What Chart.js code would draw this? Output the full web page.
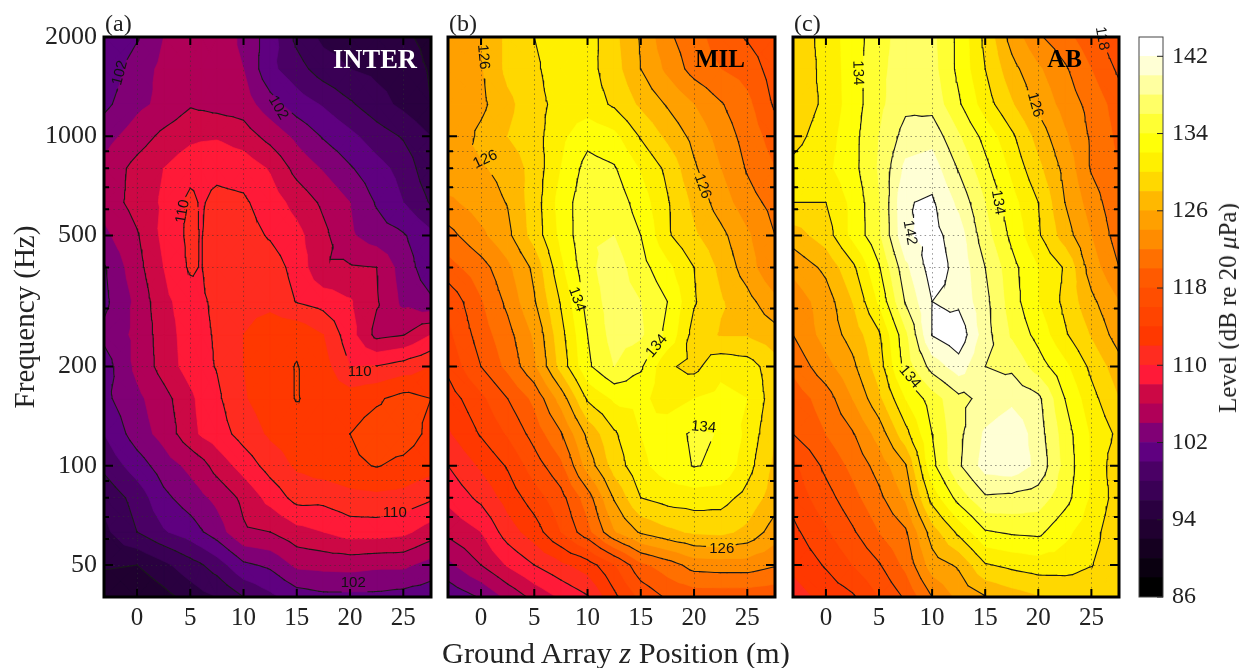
<!DOCTYPE html>
<html>
<head>
<meta charset="utf-8">
<title>Ground array levels</title>
<script src="https://cdn.jsdelivr.net/npm/chart.js@4"></script>
<style>
  html, body { margin: 0; padding: 0; background: #fff; }
  #page { position: relative; width: 1239px; height: 668px; overflow: hidden; font-family: "Liberation Serif", serif; color: #222; }
  canvas { position: absolute; top: 0; }
  .label { position: absolute; white-space: nowrap; }
</style>
</head>
<body>
<div id="page">
  <canvas id="canvasA" style="left:0" width="438" height="668"></canvas>
  <canvas id="canvasB" style="left:438px" width="345" height="668"></canvas>
  <canvas id="canvasC" style="left:783px" width="345" height="668"></canvas>
  <canvas id="canvasBar" style="left:1128px" width="90" height="668"></canvas>
  <div class="label" style="left:442px; top:636px; font-size:30.4px">Ground Array <i>z</i> Position (m)</div>
  <div class="label" style="left:1228px; top:308px; font-size:25px; transform:translate(-50%,-50%) rotate(-90deg)">Level (dB re 20 <i>μ</i>Pa)</div>
</div>
<script>
const freqs = [2000, 1600, 1250, 1000, 800, 630, 500, 400, 315, 250, 200, 160, 125, 100, 80, 63, 50, 40];
const zInter = [-3.1, 0, 2.5, 5, 6, 7.5, 10, 12.5, 15, 17.5, 20, 22.5, 25, 27.6];
const zOther = [-3.1, 0, 2.5, 5, 7.5, 10, 12.5, 15, 17.5, 20, 22.5, 25, 27.6];

const levelsInter = [
  [100, 101.8, 104, 105.5, 105.6, 105.5, 103.5, 101, 97.5, 95.5, 95, 94.5, 94.3, 93.5],
  [100.5, 103, 104.5, 105, 105.2, 105, 104, 100.5, 98.8, 97, 96, 95.5, 95, 93.8],
  [101.5, 103.5, 104.5, 105.8, 105.6, 105.3, 105, 102.8, 101, 99.8, 98.3, 96.8, 95.5, 94],
  [103.2, 105, 106.5, 107.5, 107.7, 107.8, 107, 105.3, 103.5, 101.8, 100.5, 99, 97.8, 96],
  [104.5, 106.7, 108, 109.3, 109.4, 109.5, 109.2, 107.8, 105.3, 103.8, 102.2, 100.7, 99.3, 96.5],
  [104.8, 106.8, 108.3, 110.5, 109.8, 110.5, 110.3, 109, 107.3, 105.6, 104, 101.8, 100, 97.8],
  [103.5, 105.8, 108.5, 110.5, 109.9, 111, 110.8, 109.8, 108.6, 106.5, 104.3, 102.9, 102.2, 100.5],
  [101.8, 105.3, 108, 110.3, 109.9, 111.2, 111.5, 111, 109.3, 106.2, 106.2, 106, 103, 100.8],
  [101.5, 104.5, 107.5, 109, 109.7, 110.4, 111.5, 111.5, 109.9, 109.2, 108.2, 106.2, 103.5, 102.3],
  [102.5, 104.5, 107, 109, 109.6, 110.2, 112, 113, 113.5, 112, 108.8, 105.4, 105.9, 108],
  [101, 104.5, 106.8, 108.9, 109.5, 110.1, 112, 113.2, 114.1, 112.8, 110, 110.1, 110.9, 112],
  [101.5, 103.5, 105.3, 107.5, 108.6, 109.6, 111.8, 113, 114.1, 113.3, 113, 113.7, 114.7, 114],
  [100, 103, 104.7, 107.3, 108.2, 109, 110.8, 112.3, 113, 113.5, 114, 115, 115, 113.5],
  [98.5, 101, 103, 104.5, 105.2, 106.8, 108.8, 110.8, 112.3, 113, 113.6, 114.1, 113.5, 112.7],
  [96.5, 98.8, 101.5, 103, 103.6, 104.5, 106.5, 108.7, 110.7, 110.6, 111.3, 111.5, 111.3, 110.3],
  [95.5, 98, 99.8, 101, 101.8, 103, 105.7, 106, 107.3, 108, 108.9, 108.9, 108.5, 107],
  [94.3, 94, 95.5, 97.2, 97.8, 99, 101.6, 102.4, 104.4, 104.6, 104.7, 104.4, 104.4, 103.2],
  [92.3, 92, 93.3, 94.8, 95.4, 96, 98, 99.5, 101, 101.5, 101.5, 101.5, 101.2, 100.8],
];

const levelsMil = [
  [125, 126, 128.5, 130, 131.5, 131, 128.5, 125.8, 122.4, 120.8, 119, 117.8, 116.5],
  [125, 125.8, 128.5, 129.5, 131.5, 130.8, 128.8, 126, 123.5, 121.2, 120, 119.2, 117],
  [124.5, 125.5, 127.5, 129.2, 130.8, 131, 129.7, 127.6, 125.8, 124, 122.2, 120.5, 117.7],
  [124, 126.5, 128, 129.2, 131.5, 133.3, 132.5, 129.8, 127.5, 125.4, 123.2, 121.2, 119],
  [125.8, 125.8, 126.6, 128.8, 132, 134.8, 134.2, 131.8, 129.5, 126.3, 124, 121.8, 120],
  [123.5, 125, 126.1, 129, 132.8, 135.5, 135.3, 133, 130.2, 127.5, 125, 122.8, 121.3],
  [121.3, 123.5, 125.5, 128.8, 132.5, 135.8, 136, 134, 130.3, 128.3, 126.6, 124.3, 122],
  [119.2, 121.2, 123.5, 126.5, 131.5, 135.5, 137, 134.8, 132.5, 130, 127.5, 125, 122],
  [116.5, 119.8, 122.5, 125.8, 130.2, 134.8, 137, 136, 134, 130.2, 128.2, 126.7, 124.5],
  [115.5, 119, 121.3, 124.3, 129.3, 134, 136.8, 136.3, 133.5, 129.2, 127.8, 127.8, 126.8],
  [114.5, 118, 120.5, 123.6, 128.7, 133.6, 136, 134.3, 130.3, 129.4, 131.5, 131, 128.8],
  [113, 115.5, 118, 120.5, 124.8, 130.3, 132.3, 132.5, 131, 132, 132.5, 132, 128.8],
  [111.7, 114.2, 116.2, 118.8, 121.8, 126.5, 129.7, 132, 133.2, 134.3, 133.9, 131.5, 128],
  [110, 112.3, 114.2, 117, 119.5, 124.8, 128.8, 131.5, 133, 134.1, 133.7, 130.8, 127.5],
  [108.5, 110.5, 112.8, 115, 117.3, 121, 126.2, 130, 130.8, 131, 130.8, 129.3, 127],
  [106.5, 108, 111, 113, 116, 119.3, 123.8, 126.3, 127.5, 128.3, 128.5, 127.5, 125],
  [103.5, 106, 108.2, 110, 111.5, 113, 115.8, 119.5, 121, 122.8, 123, 123, 122.2],
  [100.5, 102.2, 104.5, 106.6, 108.3, 109.8, 113.5, 116.5, 118.3, 118.8, 118.8, 118.8, 118.5],
];

const levelsAb = [
  [128.5, 130.8, 133, 135.2, 137, 136.5, 133.5, 129.5, 125.2, 122.3, 120.7, 118.7, 116.5],
  [128.5, 130.6, 133, 135.5, 137, 136.7, 133.5, 130, 126.7, 124.3, 122.3, 120, 117.6],
  [128.7, 130.4, 133, 135.5, 137.5, 137.3, 134.3, 131, 128.2, 125.5, 123.2, 121.3, 119],
  [129.3, 131, 133.3, 136, 138.8, 139.3, 136.2, 133.3, 130.4, 127.2, 124.3, 121.7, 119.5],
  [130.5, 131.5, 133.3, 136.2, 140.5, 141, 137.8, 134.6, 131.5, 128.5, 125.4, 121.8, 120],
  [130, 130, 132.5, 135.8, 141.85, 142.3, 139.5, 136, 132.7, 130, 126, 123, 120.5],
  [127, 129, 132.5, 135.6, 141.7, 142.7, 141, 136.8, 133.5, 130.3, 127, 124, 121],
  [124.5, 126.5, 129.5, 133.8, 139.5, 143, 141.4, 138, 134.7, 132, 129.8, 125, 122],
  [122.8, 125, 128, 132.3, 138.2, 142, 141.5, 138.6, 135, 132, 129.5, 126.5, 124],
  [122, 124.8, 126.8, 129.7, 135.5, 142.1, 143.5, 138.8, 135.7, 133.3, 130.3, 127.8, 125],
  [120.5, 123.3, 125.5, 129, 134.8, 138.8, 141, 138, 137.6, 135, 132.5, 129.5, 126.8],
  [118.8, 121, 124, 127.5, 132, 135, 137.5, 138.5, 139.5, 138.5, 134, 130.7, 128],
  [118, 120, 121.8, 124.8, 129.3, 134, 137.5, 140.3, 141.5, 139, 135, 131.7, 129.5],
  [115.5, 118.5, 120.5, 122.8, 125.8, 133.4, 137.7, 140.8, 141.2, 139.5, 135.3, 131.8, 128.5],
  [114.7, 117.2, 119.3, 121.5, 124.3, 130.8, 134.8, 137.7, 137.5, 137, 134.8, 131.7, 129],
  [113.5, 115.7, 117.7, 120, 121.7, 127, 130.5, 133.8, 134.3, 134.5, 132.5, 130.8, 128.5],
  [112.5, 114.2, 116, 117.8, 120.5, 125, 126.3, 129.8, 130.5, 131, 131, 130.1, 128.5],
  [111, 112.7, 113.7, 116, 118.3, 122, 124.5, 125.9, 127, 127.8, 128, 128.2, 128],
];

// 2 dB colour bands, from 86 up to 144
const bandStart = 86;
const bandStep = 2;
const bandColors = [
  "#000000", "#0a0010", "#150020", "#200030", "#2a0040", "#3a0055", "#4a0065", "#5f0080",
  "#800075", "#b00058", "#cc0845", "#ff1a38", "#ff2c20", "#ff3800", "#ff4400", "#ff4e00",
  "#ff5a00", "#ff7000", "#ff8c00", "#ffa000", "#ffb800", "#ffd800", "#fff000", "#ffff08",
  "#ffff33", "#ffff66", "#ffffa0", "#ffffd5", "#ffffff",
];
const contourLevels = [90, 94, 98, 102, 106, 110, 114, 118, 122, 126, 130, 134, 138, 142];

const xTicks = [0, 5, 10, 15, 20, 25];
const yLabelled = [2000, 1000, 500, 200, 100, 50];
const yGrid = [2000, 1000, 900, 800, 700, 600, 500, 400, 300, 200, 100, 90, 80, 70, 60, 50, 40];
const barTicks = [86, 94, 102, 110, 118, 126, 134, 142];

// contour labels: [z, frequency, text, rotation in degrees]
const labelsInter = [[-1.6, 1556, "102", -75], [13.25, 1219, "102", 60], [4.3, 591, "110", -80], [20.9, 193, "110", 0], [24.2, 71.8, "110", 0], [20.3, 44, "102", 0]];
const labelsMil = [[0.2, 1740, "126", 85], [0.4, 850, "126", -25], [20.8, 704, "126", 70], [9, 320, "134", 70], [16.5, 231, "134", -50], [20.9, 131, "134", 5], [22.6, 56, "126", 0]];
const labelsAb = [[3, 1556, "134", 88], [19.7, 1245, "126", 75], [16.2, 630, "134", 80], [7.9, 510, "142", 80], [7.9, 186, "134", 50], [26, 1980, "118", 80]];

// walks the grid as four triangles per cell, f gets the three corners
const eachTriangle = (zs, grid, f) => {
  for (let r = 0; r < freqs.length - 1; r++) {
    for (let c = 0; c < zs.length - 1; c++) {
      const a = { x: zs[c], u: Math.log(freqs[r]), v: grid[r][c] };
      const b = { x: zs[c + 1], u: Math.log(freqs[r]), v: grid[r][c + 1] };
      const d = { x: zs[c + 1], u: Math.log(freqs[r + 1]), v: grid[r + 1][c + 1] };
      const e = { x: zs[c], u: Math.log(freqs[r + 1]), v: grid[r + 1][c] };
      const m = { x: (a.x + b.x) / 2, u: (a.u + e.u) / 2, v: (a.v + b.v + d.v + e.v) / 4 };
      f(a, b, m);
      f(b, d, m);
      f(d, e, m);
      f(e, a, m);
    }
  }
}

const crossing = (p, q, level) => {
  const t = (level - p.v) / (q.v - p.v);
  return { x: p.x + t * (q.x - p.x), u: p.u + t * (q.u - p.u), v: level };
}

const clip_above = (tri, level) => {
  const out = [];
  for (let i = 0; i < 3; i++) {
    const p = tri[i];
    const q = tri[(i + 1) % 3];
    if (p.v >= level) out.push(p);
    if ((p.v >= level) !== (q.v >= level)) out.push(crossing(p, q, level));
  }
  return out;
}

// contour pieces are cut short so a label can open a clean gap in them
const make_contour = (zs, grid, level) => {
  const line = [];
  eachTriangle(zs, grid, (a, b, c) => {
    const tri = [a, b, c];
    const pts = [];
    for (let i = 0; i < 3; i++) {
      const p = tri[i];
      const q = tri[(i + 1) % 3];
      if ((p.v >= level) !== (q.v >= level)) pts.push(crossing(p, q, level));
    }
    if (pts.length === 2) {
      for (let k = 0; k <= 4; k++) {
        line.push({
          x: pts[0].x + (pts[1].x - pts[0].x) * k / 4,
          y: Math.exp(pts[0].u + (pts[1].u - pts[0].u) * k / 4),
        });
      }
      line.push({ x: pts[1].x, y: NaN });
    }
  });
  return line;
}

const bandsPlugin = {
  id: "bands",
  beforeDraw(chart, args, opts) {
    const { ctx, chartArea: area, scales } = chart;
    const px = (p) => [scales.x.getPixelForValue(p.x), scales.y.getPixelForValue(Math.exp(p.u))];
    ctx.save();
    ctx.beginPath();
    ctx.rect(area.left, area.top, area.width, area.height);
    ctx.clip();
    ctx.fillStyle = bandColors[0];
    ctx.fillRect(area.left, area.top, area.width, area.height);
    bandColors.forEach((color, i) => {
      const level = bandStart + i * bandStep;
      ctx.beginPath();
      eachTriangle(opts.zs, opts.grid, (a, b, c) => {
        const poly = clip_above([a, b, c], level);
        poly.forEach((p, k) => {
          const [x, y] = px(p);
          if (k === 0) ctx.moveTo(x, y);
          else ctx.lineTo(x, y);
        });
        if (poly.length) ctx.closePath();
      });
      ctx.fillStyle = color;
      ctx.strokeStyle = color;
      ctx.lineWidth = 0.7;
      ctx.fill();
      ctx.stroke();
    });
    ctx.restore();
  },
  afterDraw(chart, args, opts) {
    const { ctx, chartArea: area, scales } = chart;
    // inward ticks
    ctx.save();
    ctx.strokeStyle = "#000";
    ctx.lineWidth = 2;
    ctx.beginPath();
    yGrid.forEach((f) => {
      const y = scales.y.getPixelForValue(f);
      const len = yLabelled.includes(f) ? 9 : 5;
      ctx.moveTo(area.left, y);
      ctx.lineTo(area.left + len, y);
      ctx.moveTo(area.right, y);
      ctx.lineTo(area.right - len, y);
    });
    xTicks.forEach((z) => {
      const x = scales.x.getPixelForValue(z);
      ctx.moveTo(x, area.top);
      ctx.lineTo(x, area.top + 8);
      ctx.moveTo(x, area.bottom);
      ctx.lineTo(x, area.bottom - 8);
    });
    ctx.stroke();
    // contour labels
    ctx.fillStyle = "#111";
    ctx.font = '15px "Liberation Sans"';
    ctx.textAlign = "center";
    ctx.textBaseline = "middle";
    opts.labels.forEach(([z, f, text, rot]) => {
      ctx.save();
      ctx.translate(scales.x.getPixelForValue(z), scales.y.getPixelForValue(f));
      ctx.rotate(rot * Math.PI / 180);
      ctx.fillText(text, 0, 0);
      ctx.restore();
    });
    // frame
    ctx.strokeStyle = "#000";
    ctx.lineWidth = 3;
    ctx.strokeRect(area.left, area.top, area.width, area.height);
    // panel name and letter
    ctx.textAlign = "right";
    ctx.fillStyle = opts.nameColor;
    ctx.font = 'bold ' + opts.nameSize + 'px "Liberation Serif"';
    ctx.fillText(opts.name, area.right - opts.nameInset, area.top + 24);
    ctx.textAlign = "left";
    ctx.fillStyle = "#222";
    ctx.font = '24px "Liberation Serif"';
    ctx.textBaseline = "alphabetic";
    ctx.fillText(opts.letter, area.left + 1, area.top - 6);
    ctx.restore();
  },
};

const make_panel = (id, zs, grid, labels, name, nameColor, nameSize, nameInset, letter, left, right, canvasLeft, showY) => {
  const canvas = document.getElementById(id);
  const maskFor = (chart) => labels.map(([z, f]) => [chart.scales.x.getPixelForValue(z), chart.scales.y.getPixelForValue(f)]);
  return new Chart(canvas, {
    type: "scatter",
    data: {
      datasets: contourLevels.map((level) => ({
        label: level + " dB",
        data: make_contour(zs, grid, level),
        showLine: true,
        borderColor: "#1a1a1a",
        borderWidth: 1.1,
        borderCapStyle: "round",
        pointRadius: 0,
        spanGaps: false,
        segment: {
          borderColor: (ctx) => {
            const mask = maskFor(ctx.chart);
            const hide = mask.some(([x, y]) => Math.hypot(ctx.p0.x - x, ctx.p0.y - y) < 16);
            return hide ? "rgba(0,0,0,0)" : undefined;
          },
        },
      })),
    },
    options: {
      responsive: false,
      animation: false,
      layout: { padding: { top: 37, right: canvas.width - (right - canvasLeft), left: 0, bottom: 0 } },
      plugins: {
        legend: { display: false },
        tooltip: { enabled: false },
        bands: { zs, grid, labels, name, nameColor, nameSize, nameInset, letter },
      },
      scales: {
        x: {
          type: "linear",
          min: -3.1,
          max: 27.6,
          afterBuildTicks: (axis) => { axis.ticks = xTicks.map((value) => ({ value })); },
          afterFit: (axis) => { axis.height = 71; },
          grid: { color: "rgba(50,50,50,.5)", lineWidth: 1, drawTicks: false },
          border: { display: false, dash: [1.5, 3.2] },
          ticks: { color: "#222", font: { family: "Liberation Serif", size: 25 }, padding: 6, maxRotation: 0, autoSkip: false },
        },
        y: {
          type: "logarithmic",
          min: 40,
          max: 2000,
          display: true,
          afterBuildTicks: (axis) => { axis.ticks = yGrid.map((value) => ({ value })); },
          afterFit: (axis) => { axis.width = left - canvasLeft; },
          grid: { color: "rgba(50,50,50,.5)", lineWidth: 1, drawTicks: false },
          border: { display: false, dash: [1.5, 3.2] },
          title: { display: showY, text: "Frequency (Hz)", color: "#222", font: { family: "Liberation Serif", size: 29 }, padding: { top: 9, bottom: 0 } },
          ticks: {
            display: showY,
            color: "#222",
            font: { family: "Liberation Serif", size: 26 },
            padding: 7,
            autoSkip: false,
            callback: (value) => (yLabelled.includes(value) ? String(value) : ""),
          },
        },
      },
    },
    plugins: [bandsPlugin],
  });
}

const make_colorbar = () => {
  const canvas = document.getElementById("canvasBar");
  return new Chart(canvas, {
    type: "bar",
    data: {
      labels: ["Level"],
      datasets: bandColors.map((color, i) => ({
        label: String(bandStart + i * bandStep),
        data: [[bandStart + i * bandStep, bandStart + (i + 1) * bandStep]],
        backgroundColor: color,
        grouped: false,
        barPercentage: 1,
        categoryPercentage: 1,
      })),
    },
    options: {
      responsive: false,
      animation: false,
      layout: { padding: { top: 37, left: 11, right: 0, bottom: 0 } },
      plugins: { legend: { display: false }, tooltip: { enabled: false } },
      scales: {
        x: { grid: { display: false }, border: { display: false }, ticks: { display: false }, afterFit: (axis) => { axis.height = 71; } },
        y: {
          position: "right",
          min: 86,
          max: 144,
          afterBuildTicks: (axis) => { axis.ticks = barTicks.map((value) => ({ value })); },
          afterFit: (axis) => { axis.width = 55; },
          grid: { display: false },
          border: { display: false },
          ticks: { color: "#222", font: { family: "Liberation Serif", size: 24 }, padding: 1, autoSkip: false },
        },
      },
    },
    plugins: [{
      id: "barFrame",
      afterDraw(chart) {
        const { ctx, chartArea: area, scales } = chart;
        ctx.save();
        ctx.strokeStyle = "#444";
        ctx.lineWidth = 1;
        ctx.strokeRect(area.left, area.top, area.width, area.height);
        ctx.beginPath();
        barTicks.forEach((v) => {
          const y = scales.y.getPixelForValue(v);
          ctx.moveTo(area.right, y);
          ctx.lineTo(area.right - 6, y);
        });
        ctx.strokeStyle = "#222";
        ctx.stroke();
        ctx.restore();
      },
    }],
  });
}

make_panel("canvasA", zInter, levelsInter, labelsInter, "INTER", "#fff", 26.5, 14, "(a)", 104, 431, 0, true);
make_panel("canvasB", zOther, levelsMil, labelsMil, "MIL", "#000", 25, 30, "(b)", 448, 775, 438, false);
make_panel("canvasC", zOther, levelsAb, labelsAb, "AB", "#000", 25, 37, "(c)", 793, 1119, 783, false);
make_colorbar();
</script>
</body>
</html>
